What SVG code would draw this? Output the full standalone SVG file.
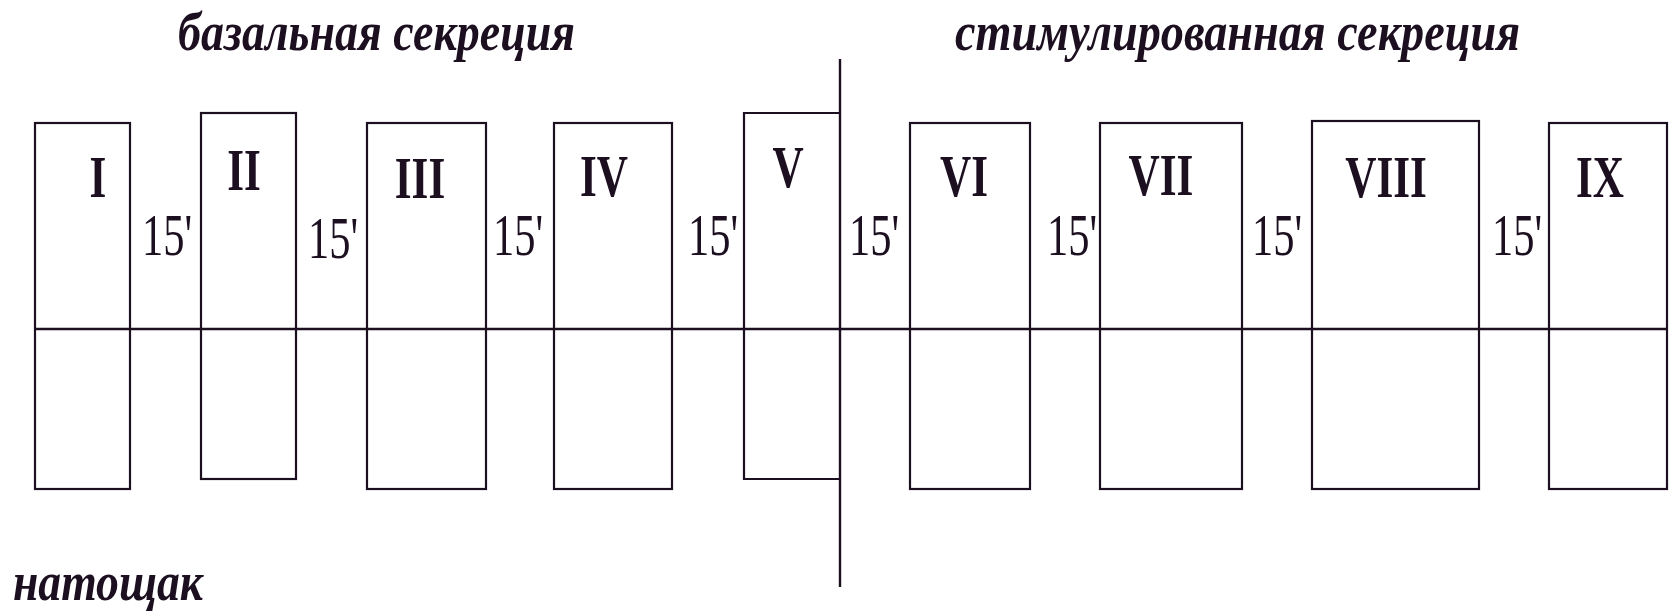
<svg xmlns="http://www.w3.org/2000/svg" width="1673" height="612" viewBox="0 0 1673 612">
<style>
.box{fill:none;stroke:#1c1020;stroke-width:2.2}
.ln{stroke:#1c1020;stroke-width:2.4;fill:none}
.num{font-family:"Liberation Serif","Times New Roman",serif;font-weight:bold;font-size:60px;fill:#1c1020;text-anchor:middle}
.t15{font-family:"Liberation Serif","Times New Roman",serif;font-size:59px;fill:#1c1020}
.ttl{font-family:"Liberation Serif","Times New Roman",serif;font-weight:bold;font-style:italic;font-size:54px;fill:#1c1020}
</style>
<rect width="1673" height="612" fill="#ffffff"/>
<g id="titles">
<text class="ttl" x="178" y="50" textLength="397" lengthAdjust="spacingAndGlyphs">базальная секреция</text>
<text class="ttl" x="955" y="50" textLength="565" lengthAdjust="spacingAndGlyphs">стимулированная секреция</text>
<text class="ttl" x="13" y="600" textLength="190" lengthAdjust="spacingAndGlyphs">натощак</text>
</g>
<g id="node-I"><rect class="box" x="35" y="123" width="95" height="366"/><text class="num" transform="translate(98,197) scale(0.72,1)">I</text></g>
<g id="node-II"><rect class="box" x="201" y="113" width="95" height="366"/><text class="num" transform="translate(244,190) scale(0.72,1)">II</text></g>
<g id="node-III"><rect class="box" x="367" y="123" width="119" height="366"/><text class="num" transform="translate(420,198) scale(0.72,1)">III</text></g>
<g id="node-IV"><rect class="box" x="554" y="123" width="118" height="366"/><text class="num" transform="translate(604,196) scale(0.72,1)">IV</text></g>
<g id="node-V"><path class="box" d="M840,113 H744 V479 H840"/><text class="num" transform="translate(788,187) scale(0.72,1)">V</text></g>
<g id="node-VI"><rect class="box" x="910" y="123" width="120" height="366"/><text class="num" transform="translate(964,196) scale(0.72,1)">VI</text></g>
<g id="node-VII"><rect class="box" x="1100" y="123" width="142" height="366"/><text class="num" transform="translate(1161,195) scale(0.72,1)">VII</text></g>
<g id="node-VIII"><rect class="box" x="1312" y="121" width="167" height="368"/><text class="num" transform="translate(1386,197) scale(0.72,1)">VIII</text></g>
<g id="node-IX"><rect class="box" x="1549" y="123" width="118" height="366"/><text class="num" transform="translate(1600,197) scale(0.72,1)">IX</text></g>
<g id="connectors">
<line class="ln" x1="35" y1="329" x2="1667" y2="329"/>
<line class="ln" x1="840" y1="59" x2="840" y2="587"/>
</g>
<g id="intervals">
<text class="t15" transform="translate(142,255) scale(0.72,1)">15'</text>
<text class="t15" transform="translate(308,258) scale(0.72,1)">15'</text>
<text class="t15" transform="translate(493,255) scale(0.72,1)">15'</text>
<text class="t15" transform="translate(688,255) scale(0.72,1)">15'</text>
<text class="t15" transform="translate(849,255) scale(0.72,1)">15'</text>
<text class="t15" transform="translate(1047,255) scale(0.72,1)">15'</text>
<text class="t15" transform="translate(1252,255) scale(0.72,1)">15'</text>
<text class="t15" transform="translate(1492,255) scale(0.72,1)">15'</text>
</g>
</svg>
